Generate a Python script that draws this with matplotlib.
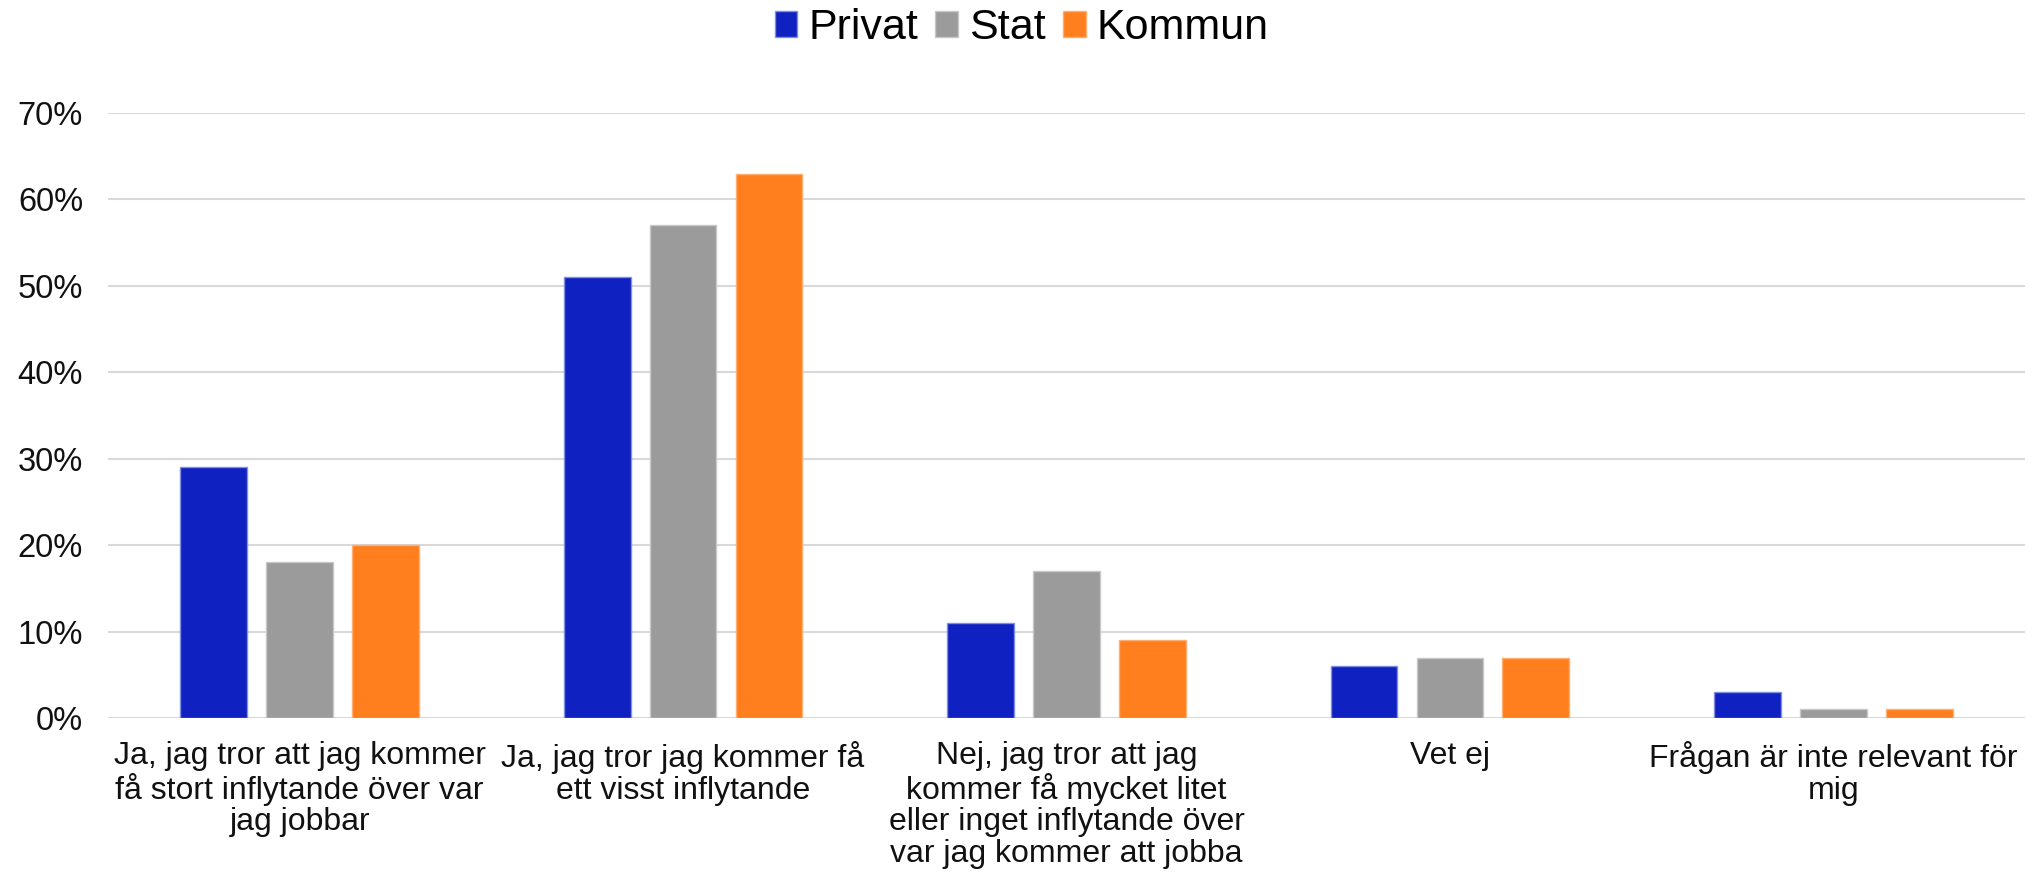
import matplotlib
matplotlib.use("Agg")
import matplotlib.pyplot as plt
import numpy as np
from matplotlib.ticker import PercentFormatter

plt.rcParams['font.family'] = ['Liberation Sans', 'DejaVu Sans']

categories = [
    "Ja, jag tror att jag kommer\nfå stort inflytande över var\njag jobbar",
    "Ja, jag tror jag kommer få\nett visst inflytande",
    "Nej, jag tror att jag\nkommer få mycket litet\neller inget inflytande över\nvar jag kommer att jobba",
    "Vet ej",
    "Frågan är inte relevant för\nmig",
]
series_names = ["Privat", "Stat", "Kommun"]
privat = [29, 51, 11, 6, 3]
stat = [18, 57, 17, 7, 1]
kommun = [20, 63, 9, 7, 1]
colors = ["#0f21c0", "#9b9b9b", "#ff7f1f"]
edge_colors = ["#8090e0", "#c8c8c8", "#ffb070"]

fig = plt.figure(figsize=(20.35, 8.85), dpi=100)
ax = fig.add_axes([108/2035, 1-718/885, (2025-108)/2035, (718-113)/885])

x = np.arange(len(categories))
width = 0.174
step = 0.224
for i, (name, vals) in enumerate(zip(series_names, [privat, stat, kommun])):
    ax.bar(x + (i-1)*step, vals, width, color=colors[i], label=name,
           edgecolor=edge_colors[i], linewidth=1.0, zorder=3)

ax.set_xlim(-0.5, len(categories)-0.5)
ax.set_ylim(0, 70)
ax.set_yticks(np.arange(0, 71, 10))
ax.yaxis.set_major_formatter(PercentFormatter(decimals=0))
ax.grid(axis='y', color='#d9d9d9', linewidth=1.5, zorder=0)
for s in ax.spines.values():
    s.set_visible(False)
ax.tick_params(axis='y', length=0, labelsize=23.5, pad=18, labelcolor='#111111')
ax.tick_params(axis='x', length=0, labelsize=23, pad=16.5, labelcolor='#111111')
ax.set_xticks(x)
ax.set_xticklabels(categories, linespacing=1.07)

fig.legend(loc='center', bbox_to_anchor=(0.502, 0.968), ncol=3, frameon=False,
           fontsize=31, handlelength=0.53, handleheight=0.53, handletextpad=0.25,
           columnspacing=0.4, borderpad=0)

fig.savefig("out.png", dpi=100)
